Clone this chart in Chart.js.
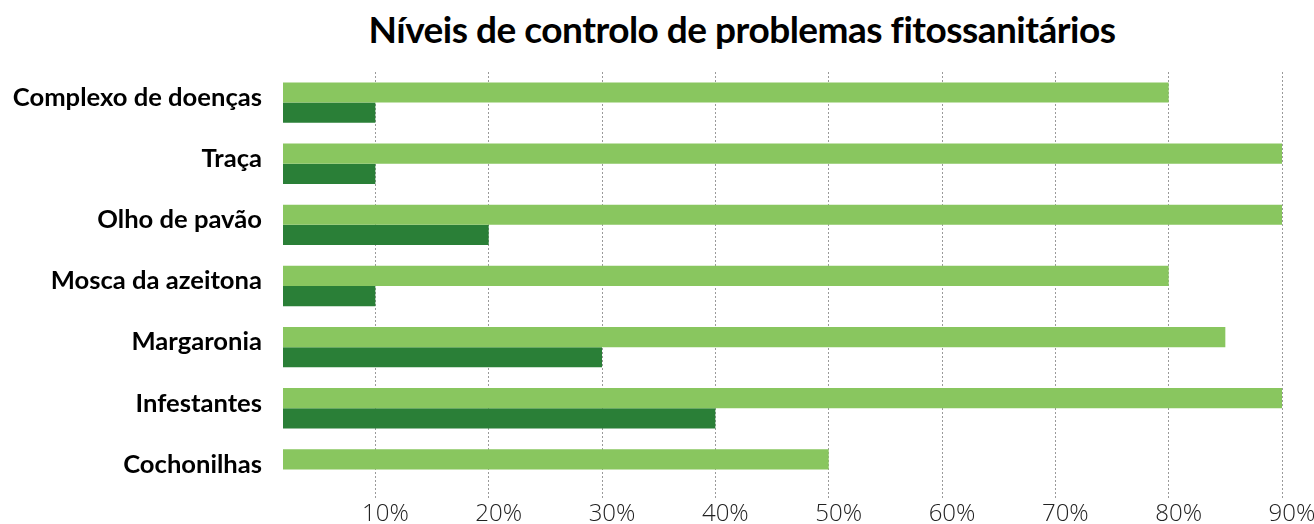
<!DOCTYPE html>
<html>
<head>
<meta charset="utf-8">
<script src="https://cdn.jsdelivr.net/npm/chart.js@4/dist/chart.umd.min.js"></script>
<style>
  html, body { margin: 0; padding: 0; background: #fff; }
  #wrap { position: relative; width: 1314px; height: 524px; }
  #title {
    position: absolute; left: 0; top: 6px; width: 1314px; padding-left: 170px; box-sizing: border-box;
    text-align: center; font-family: Lato, sans-serif; font-weight: 700; font-size: 37px;
    letter-spacing: -0.5px; color: #000; line-height: 46px;
  }
  canvas { position: absolute; left: 0; top: 0; }
</style>
</head>
<body>
<div id="wrap">
  <div id="title">Níveis de controlo de problemas fitossanitários</div>
  <canvas id="myChart" width="1314" height="524"></canvas>
</div>
<script>
const categories = ['Complexo de doenças', 'Traça', 'Olho de pavão', 'Mosca da azeitona', 'Margaronia', 'Infestantes', 'Cochonilhas'];
const lightValues = [80, 90, 90, 80, 85, 90, 50];
const darkValues = [10, 10, 20, 10, 30, 40, null];
const tickValues = [10, 20, 30, 40, 50, 60, 70, 80, 90];

const ctx = document.getElementById('myChart').getContext('2d');
const myChart = new Chart(ctx, {
    type: 'bar',
    data: {
        labels: categories,
        datasets: [{
            data: lightValues,
            backgroundColor: '#89c65f',
            categoryPercentage: 0.66,
            barPercentage: 1
        }, {
            data: darkValues,
            backgroundColor: '#2a7f37',
            categoryPercentage: 0.66,
            barPercentage: 1
        }]
    },
    options: {
        indexAxis: 'y',
        responsive: false,
        animation: false,
        layout: {
            padding: { top: 72, right: 32, left: 0, bottom: 0 }
        },
        plugins: {
            legend: { display: false },
            tooltip: { enabled: false }
        },
        scales: {
            x: {
                min: 1.85,
                max: 90,
                afterBuildTicks: scale => {
                    scale.ticks = tickValues.map(v => ({ value: v }));
                },
                afterFit: scale => { scale.height = 24; },
                grid: {
                    color: '#9a9a9a',
                    lineWidth: 1,
                    drawTicks: false
                },
                border: { display: false, dash: [2, 2] },
                ticks: {
                    padding: 0,
                    labelOffset: 10,
                    color: '#222',
                    font: { family: 'Open Sans', size: 24, weight: 300 },
                    callback: v => v + '%'
                }
            },
            y: {
                afterFit: scale => { scale.width = 283; },
                // tick marks are hidden, their length only sets the gap
                grid: { display: false, drawTicks: true, tickLength: 21 },
                border: { display: false },
                ticks: {
                    padding: 0,
                    labelOffset: -5,
                    color: '#000',
                    font: { family: 'Lato', size: 25.6, weight: 'bold' }
                }
            }
        }
    }
});
</script>
</body>
</html>
